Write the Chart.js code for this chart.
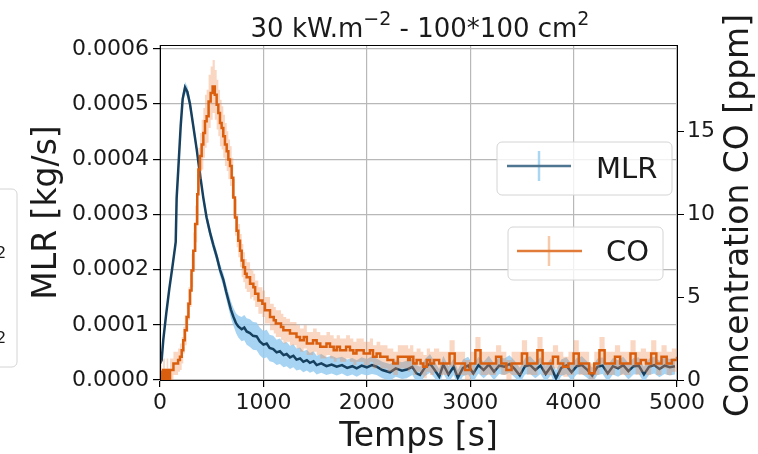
<!DOCTYPE html>
<html>
<head>
<meta charset="utf-8">
<script src="https://cdn.jsdelivr.net/npm/chart.js@4.4.0/dist/chart.umd.min.js"></script>
<style>
  html, body { margin: 0; padding: 0; background: #fff; }
  #chart { display: block; }
</style>
</head>
<body>
<canvas id="chart" width="758" height="454"></canvas>
<script>
// MLR [kg/s]
const mlrTime = [
  0, 16, 32, 60, 90, 120, 145, 152, 161, 177, 200, 219, 242, 265, 290, 322, 355, 380,
  419, 450, 484, 515, 548, 580, 612, 640, 661, 685, 709, 735, 757, 790, 815, 838, 870, 900,
  935, 965, 1000, 1032, 1060, 1095, 1128, 1160, 1195, 1225, 1257, 1290, 1320, 1355, 1386, 1420, 1450, 1485,
  1515, 1560, 1610, 1660, 1709, 1760, 1810, 1860, 1902, 1950, 2000, 2050, 2095, 2150, 2224,
  2280, 2340, 2386, 2440, 2480, 2515, 2560, 2611, 2650, 2700, 2740, 2790, 2840, 2880, 2930,
  2980, 3030, 3080, 3130, 3180, 3230, 3280, 3330, 3380, 3430, 3480, 3530, 3580, 3630, 3680,
  3730, 3780, 3830, 3880, 3930, 3980, 4030, 4080, 4130, 4180, 4230, 4280, 4330, 4380, 4430,
  4480, 4530, 4580, 4630, 4680, 4730, 4780, 4830, 4880, 4930, 4980
];
const mlrValue = [
  3.0e-5, 3.6e-5, 7.3e-5, 12.0e-5, 16.5e-5, 20.5e-5, 24.0e-5, 25.0e-5, 33.0e-5, 38.2e-5, 46.0e-5, 50.9e-5, 53.0e-5, 52.2e-5, 50.0e-5, 46.0e-5, 41.8e-5, 38.2e-5,
  33.0e-5, 29.5e-5, 26.7e-5, 24.5e-5, 22.4e-5, 20.0e-5, 18.2e-5, 16.0e-5, 14.5e-5, 12.8e-5, 11.5e-5, 10.3e-5, 9.7e-5, 9.2e-5, 9.5e-5, 8.8e-5, 8.5e-5, 8.0e-5,
  7.9e-5, 7.0e-5, 6.4e-5, 6.6e-5, 5.8e-5, 5.6e-5, 5.0e-5, 5.2e-5, 4.5e-5, 4.7e-5, 4.1e-5, 4.4e-5, 3.7e-5, 3.9e-5, 3.3e-5, 3.6e-5, 3.1e-5, 3.4e-5,
  2.7e-5, 3.0e-5, 2.5e-5, 2.8e-5, 2.4e-5, 2.7e-5, 2.2e-5, 2.5e-5, 2.1e-5, 2.6e-5, 2.3e-5, 2.7e-5, 2.4e-5, 1.8e-5, 1.4e-5,
  2.1e-5, 1.7e-5, 1.9e-5, 2.4e-5, 1.2e-5, 0.9e-5, 2.2e-5, 3.0e-5, 2.0e-5, 0.6e-5, 2.8e-5, 1.0e-5, 2.4e-5, 0.4e-5, 2.2e-5,
  2.6e-5, 1.2e-5, 2.7e-5, 1.8e-5, 2.8e-5, 1.5e-5, 2.6e-5, 2.4e-5, 2.9e-5, 2.0e-5, 0.8e-5, 2.5e-5, 2.7e-5, 1.8e-5, 2.6e-5,
  1.1e-5, 2.4e-5, 0.3e-5, 2.2e-5, 2.6e-5, 1.4e-5, 2.5e-5, 2.7e-5, 1.9e-5, 0.8e-5, 2.4e-5, 2.6e-5, 1.2e-5, 2.5e-5, 2.1e-5,
  2.7e-5, 1.6e-5, 2.5e-5, 2.6e-5, 1.0e-5, 2.4e-5, 2.7e-5, 2.0e-5, 2.6e-5, 2.3e-5, 2.5e-5
];
const mlrErr = [
  0.5e-5, 0.5e-5, 0.6e-5, 0.7e-5, 0.7e-5, 0.8e-5, 0.8e-5, 0.8e-5, 0.9e-5, 0.9e-5, 1.0e-5, 1.0e-5, 1.0e-5, 1.0e-5, 1.0e-5, 1.0e-5, 0.9e-5, 0.9e-5,
  0.9e-5, 1.0e-5, 1.0e-5, 1.0e-5, 1.0e-5, 1.1e-5, 1.2e-5, 1.3e-5, 1.4e-5, 1.5e-5, 1.6e-5, 1.8e-5, 2.0e-5, 2.2e-5, 2.3e-5, 2.4e-5, 2.5e-5, 2.5e-5,
  2.5e-5, 2.5e-5, 2.5e-5, 2.5e-5, 2.4e-5, 2.4e-5, 2.3e-5, 2.3e-5, 2.2e-5, 2.2e-5, 2.1e-5, 2.1e-5, 2.0e-5, 2.0e-5, 1.9e-5, 1.9e-5, 1.8e-5, 1.8e-5,
  1.7e-5, 1.7e-5, 1.6e-5, 1.6e-5, 1.6e-5, 1.5e-5, 1.5e-5, 1.5e-5, 1.5e-5, 1.5e-5, 1.5e-5, 1.6e-5, 1.5e-5, 1.5e-5, 1.5e-5,
  1.5e-5, 1.5e-5, 1.6e-5, 1.5e-5, 1.5e-5, 1.5e-5, 1.5e-5, 1.7e-5, 1.5e-5, 1.4e-5, 1.6e-5, 1.5e-5, 1.5e-5, 1.4e-5, 1.5e-5,
  1.6e-5, 1.5e-5, 1.5e-5, 1.5e-5, 1.6e-5, 1.5e-5, 1.5e-5, 1.5e-5, 1.6e-5, 1.5e-5, 1.4e-5, 1.5e-5, 1.6e-5, 1.5e-5, 1.5e-5,
  1.5e-5, 1.5e-5, 1.4e-5, 1.5e-5, 1.5e-5, 1.5e-5, 1.5e-5, 1.6e-5, 1.5e-5, 1.4e-5, 1.5e-5, 1.5e-5, 1.5e-5, 1.5e-5, 1.5e-5,
  1.5e-5, 1.5e-5, 1.5e-5, 1.5e-5, 1.4e-5, 1.5e-5, 1.5e-5, 1.5e-5, 1.5e-5, 1.5e-5, 1.5e-5
];

// CO [ppm]
const coTime = [
  0, 16, 30, 48, 65, 80, 97, 115, 130, 145,
  160, 175, 193, 210, 225, 240, 258, 275, 290, 305,
  322, 340, 360, 371, 387, 403, 419, 435, 451, 470,
  490, 509, 530, 548, 564, 580, 596, 612, 628, 645,
  661, 677, 693, 709, 725, 741, 757, 774, 790, 806,
  822, 838, 855, 871, 887, 903, 920, 935, 951, 967,
  990, 1015, 1040, 1064, 1080, 1100, 1120, 1144, 1170, 1193,
  1220, 1257, 1290, 1320, 1354, 1390, 1420, 1450, 1480, 1515,
  1550, 1579, 1610, 1644, 1680, 1709, 1740, 1773, 1800, 1837,
  1870, 1900, 1934, 1970, 1999, 2030, 2060, 2095, 2130, 2160,
  2200, 2256, 2300, 2354, 2400, 2418, 2450, 2482, 2520, 2547,
  2580, 2611, 2650,
  2700, 2750, 2800, 2850, 2900, 2950, 3000, 3050, 3100, 3150,
  3200, 3250, 3300, 3350, 3400, 3450, 3500, 3550, 3600, 3650,
  3700, 3750, 3800, 3850, 3900, 3950, 4000, 4050, 4100, 4150,
  4200, 4250, 4300, 4350, 4400, 4450, 4500, 4550, 4600, 4650,
  4700, 4750, 4800, 4850, 4900, 4950, 5000
];
const coValue = [
  0.5, 0.0, 0.6, 0.0, 0.6, 0.0, 0.6, 0.6, 1.0, 1.0,
  1.0, 1.2, 1.4, 1.8, 2.4, 3.0, 3.8, 4.6, 5.4, 6.6,
  7.8, 9.4, 11.2, 12.7, 13.5, 14.2, 14.9, 15.6, 15.9, 16.8,
  17.3, 17.7, 17.2, 16.6, 16.1, 15.5, 15.2, 14.7, 14.2, 13.8,
  13.3, 12.9, 12.2, 11.0, 9.8, 9.0, 8.4, 7.8, 7.2, 6.8,
  6.4, 6.2, 6.2, 5.8, 5.8, 5.6, 5.2, 5.2, 4.8, 4.8,
  4.6, 4.2, 4.2, 3.8, 3.8, 3.6, 3.4, 3.4, 3.2, 3.0,
  3.0, 2.8, 2.8, 2.6, 2.4, 2.6, 2.2, 2.2, 2.4, 2.2,
  2.0, 2.0, 2.2, 2.0, 1.8, 2.0, 1.8, 1.8, 2.0, 1.8,
  1.6, 1.8, 1.8, 1.6, 1.6, 1.8, 1.4, 1.6, 1.4, 1.4,
  1.2, 1.0, 1.4, 1.4, 1.2, 1.4, 1.0, 1.2, 1.0, 0.8,
  1.2, 1.0, 1.2,
  1.0, 1.0, 1.6, 1.0, 1.0, 0.6, 1.0, 1.8, 1.0, 1.0,
  1.0, 1.4, 1.0, 0.6, 1.0, 1.0, 1.6, 1.0, 1.0, 1.8,
  1.0, 1.0, 1.4, 1.0, 0.8, 1.0, 1.6, 1.0, 1.0, 0.4,
  1.0, 1.8, 1.0, 1.0, 1.4, 1.0, 1.0, 1.6, 1.0, 1.2,
  1.0, 1.6, 1.0, 1.4, 1.0, 1.2, 1.4
];
const coErr = [
  0.7, 0.7, 0.7, 0.7, 0.7, 0.7, 0.7, 0.7, 0.7, 0.7,
  0.7, 0.7, 0.8, 0.8, 0.8, 0.9, 0.9, 1.0, 1.0, 1.0,
  1.1, 1.1, 1.2, 1.3, 1.4, 1.5, 1.5, 1.6, 1.6, 1.6,
  1.6, 1.6, 1.5, 1.5, 1.4, 1.4, 1.3, 1.3, 1.3, 1.2,
  1.2, 1.2, 1.2, 1.1, 1.1, 1.0, 1.0, 1.0, 1.0, 0.9,
  0.9, 0.9, 0.9, 0.9, 0.8, 0.8, 0.8, 0.8, 0.8, 0.8,
  0.8, 0.8, 0.8, 0.8, 0.8, 0.8, 0.8, 0.8, 0.8, 0.8,
  0.7, 0.7, 0.7, 0.7, 0.7, 0.7, 0.7, 0.7, 0.7, 0.7,
  0.7, 0.7, 0.7, 0.7, 0.7, 0.7, 0.7, 0.7, 0.7, 0.7,
  0.7, 0.7, 0.7, 0.7, 0.7, 0.7, 0.7, 0.7, 0.7, 0.7,
  0.7, 0.7, 0.7, 0.7, 0.7, 0.7, 0.7, 0.7, 0.7, 0.7,
  0.7, 0.7, 0.7,
  0.7, 0.7, 0.8, 0.7, 0.7, 0.6, 0.7, 0.8, 0.7, 0.7,
  0.7, 0.7, 0.7, 0.6, 0.7, 0.7, 0.8, 0.7, 0.7, 0.8,
  0.7, 0.7, 0.7, 0.7, 0.6, 0.7, 0.8, 0.7, 0.7, 0.6,
  0.7, 0.8, 0.7, 0.7, 0.7, 0.7, 0.7, 0.8, 0.7, 0.7,
  0.7, 0.8, 0.7, 0.7, 0.7, 0.7, 0.7
];

const xTicks = [0, 1000, 2000, 3000, 4000, 5000];
const mlrTicks = [0, 0.0001, 0.0002, 0.0003, 0.0004, 0.0005, 0.0006];
const coTicks = [0, 5, 10, 15];

const FONT = "'DejaVu Sans', sans-serif";
const INK = '#1a1a1a';
const GRID = '#b8b8b8';

const MLR_LINE = '#17405f';
const MLR_BAND = 'rgba(150, 205, 240, 0.85)';
const CO_LINE = '#d95f0e';
const CO_BAND = 'rgba(240, 140, 80, 0.35)';

const points = (xs, ys) => xs.map((x, i) => ({ x, y: ys[i] }));
const shifted = (xs, ys, es, sign) => xs.map((x, i) => ({ x, y: ys[i] + sign * es[i] }));
const fixedTicks = list => scale => { scale.ticks = list.map(value => ({ value })); };

// rounded legend box, matplotlib style
function roundBox(ctx, x, y, w, h, r) {
  ctx.beginPath();
  ctx.moveTo(x + r, y);
  ctx.lineTo(x + w - r, y);
  ctx.arcTo(x + w, y, x + w, y + r, r);
  ctx.lineTo(x + w, y + h - r);
  ctx.arcTo(x + w, y + h, x + w - r, y + h, r);
  ctx.lineTo(x + r, y + h);
  ctx.arcTo(x, y + h, x, y + h - r, r);
  ctx.lineTo(x, y + r);
  ctx.arcTo(x, y, x + r, y, r);
  ctx.closePath();
}

function legendEntry(ctx, box, line, bar, lineColor, barColor, label, textX, textY) {
  roundBox(ctx, box[0], box[1], box[2], box[3], 5);
  ctx.fillStyle = 'rgba(255,255,255,0.8)';
  ctx.fill();
  ctx.strokeStyle = '#d4d4d4';
  ctx.lineWidth = 1;
  ctx.stroke();

  ctx.lineWidth = 2.5;
  ctx.strokeStyle = barColor;
  ctx.beginPath();
  ctx.moveTo(bar[0], bar[1]);
  ctx.lineTo(bar[0], bar[2]);
  ctx.stroke();

  ctx.strokeStyle = lineColor;
  ctx.beginPath();
  ctx.moveTo(line[0], line[2]);
  ctx.lineTo(line[1], line[2]);
  ctx.stroke();

  ctx.fillStyle = INK;
  ctx.font = `29px ${FONT}`;
  ctx.textAlign = 'left';
  ctx.textBaseline = 'alphabetic';
  ctx.fillText(label, textX, textY);
}

// title with mathtext-like superscripts, centred on cx
function drawTitle(ctx, parts, cx, baseline) {
  const big = `26px ${FONT}`;
  const small = `19px ${FONT}`;
  let total = 0;
  parts.forEach(p => { ctx.font = p.sup ? small : big; total += ctx.measureText(p.text).width; });
  let x = cx - total / 2;
  ctx.textAlign = 'left';
  parts.forEach(p => {
    ctx.font = p.sup ? small : big;
    ctx.fillText(p.text, x, p.sup ? baseline - 12 : baseline);
    x += ctx.measureText(p.text).width;
  });
}

const decorPlugin = {
  id: 'decor',
  afterDatasetsDraw(chart) {
    const { ctx, chartArea: a } = chart;
    ctx.save();
    ctx.strokeStyle = '#000';
    ctx.lineWidth = 1;
    ctx.strokeRect(a.left + 0.5, a.top + 0.5, a.right - a.left, a.bottom - a.top);
    ctx.restore();
  },
  afterDraw(chart) {
    const { ctx, chartArea: a } = chart;
    const midY = (a.top + a.bottom) / 2;
    ctx.save();

    ctx.fillStyle = INK;
    ctx.textBaseline = 'alphabetic';
    drawTitle(ctx, [
      { text: '30 kW.m' },
      { text: '\u22122', sup: true },
      { text: ' - 100*100 cm' },
      { text: '2', sup: true }
    ], 420, 37);

    // axis titles
    ctx.textAlign = 'center';
    ctx.font = `33px ${FONT}`;
    ctx.fillText('Temps [s]', (a.left + a.right) / 2, 446);

    ctx.save();
    ctx.translate(56, midY);
    ctx.rotate(-Math.PI / 2);
    ctx.fillText('MLR [kg/s]', 0, 0);
    ctx.restore();

    ctx.save();
    ctx.translate(748, midY + 3);
    ctx.rotate(-Math.PI / 2);
    ctx.fillText('Concentration CO [ppm]', 0, 0);
    ctx.restore();

    // legends
    legendEntry(ctx, [497, 142, 175, 53], [507, 571, 166], [539, 151, 181],
      '#4f7690', '#a9d6f3', 'MLR', 596, 178);
    legendEntry(ctx, [508, 227, 155, 53], [517, 582, 251], [549, 236, 266],
      '#e07b3a', '#f7c9a8', 'CO', 606, 261);

    // clipped legend of the neighbouring panel
    roundBox(ctx, -40, 189, 57, 178, 5);
    ctx.fillStyle = '#fff';
    ctx.fill();
    ctx.strokeStyle = '#d4d4d4';
    ctx.lineWidth = 1;
    ctx.stroke();
    ctx.fillStyle = INK;
    ctx.font = `16px ${FONT}`;
    ctx.textAlign = 'left';
    ctx.fillText('2', -4, 258);
    ctx.fillText('2', -4, 343);

    ctx.restore();
  }
};

const ctx = document.getElementById('chart').getContext('2d');

new Chart(ctx, {
  type: 'line',
  data: {
    datasets: [
      {
        label: 'CO',
        data: points(coTime, coValue),
        yAxisID: 'y1',
        borderColor: CO_LINE,
        borderWidth: 2.5,
        stepped: true,
        pointRadius: 0,
        fill: false,
        order: 1
      },
      {
        label: 'CO upper',
        data: shifted(coTime, coValue, coErr, 1),
        yAxisID: 'y1',
        borderWidth: 0,
        stepped: true,
        pointRadius: 0,
        backgroundColor: CO_BAND,
        fill: '+1',
        order: 2
      },
      {
        label: 'CO lower',
        data: shifted(coTime, coValue, coErr, -1),
        yAxisID: 'y1',
        borderWidth: 0,
        stepped: true,
        pointRadius: 0,
        fill: false,
        order: 2
      },
      {
        label: 'MLR',
        data: points(mlrTime, mlrValue),
        yAxisID: 'y',
        borderColor: MLR_LINE,
        borderWidth: 2.5,
        tension: 0,
        pointRadius: 0,
        fill: false,
        order: 3
      },
      {
        label: 'MLR upper',
        data: shifted(mlrTime, mlrValue, mlrErr, 1),
        yAxisID: 'y',
        borderWidth: 0,
        pointRadius: 0,
        backgroundColor: MLR_BAND,
        fill: '+1',
        order: 4
      },
      {
        label: 'MLR lower',
        data: shifted(mlrTime, mlrValue, mlrErr, -1),
        yAxisID: 'y',
        borderWidth: 0,
        pointRadius: 0,
        fill: false,
        order: 4
      }
    ]
  },
  options: {
    responsive: false,
    devicePixelRatio: 1,
    animation: false,
    clip: 0,
    layout: { padding: { top: 45, left: 0, right: 0, bottom: 0 } },
    plugins: {
      legend: { display: false },
      title: { display: false },
      tooltip: { enabled: false }
    },
    scales: {
      x: {
        type: 'linear',
        min: 0,
        max: 5000,
        afterBuildTicks: fixedTicks(xTicks),
        afterFit: s => { s.height = 74; },
        grid: { color: GRID, lineWidth: 1.2, tickColor: '#000', tickLength: 7 },
        border: { color: '#000', width: 1 },
        ticks: {
          color: INK,
          font: { family: FONT, size: 22 },
          padding: 3,
          maxRotation: 0,
          callback: v => String(v)
        }
      },
      y: {
        position: 'left',
        min: 0,
        max: 0.000607,
        afterBuildTicks: fixedTicks(mlrTicks),
        afterFit: s => { s.width = 160; },
        grid: { color: GRID, lineWidth: 1.2, tickColor: '#000', tickLength: 7 },
        border: { color: '#000', width: 1 },
        ticks: {
          color: INK,
          font: { family: FONT, size: 22 },
          padding: 4,
          callback: v => v.toFixed(4)
        }
      },
      y1: {
        position: 'right',
        min: 0,
        max: 20.2,
        afterBuildTicks: fixedTicks(coTicks),
        afterFit: s => { s.width = 81; },
        grid: { display: true, drawOnChartArea: false, tickColor: '#000', tickLength: 7 },
        border: { color: '#000', width: 1 },
        ticks: {
          color: INK,
          font: { family: FONT, size: 22 },
          padding: 3,
          callback: v => String(v)
        }
      }
    }
  },
  plugins: [decorPlugin]
});
</script>
</body>
</html>
